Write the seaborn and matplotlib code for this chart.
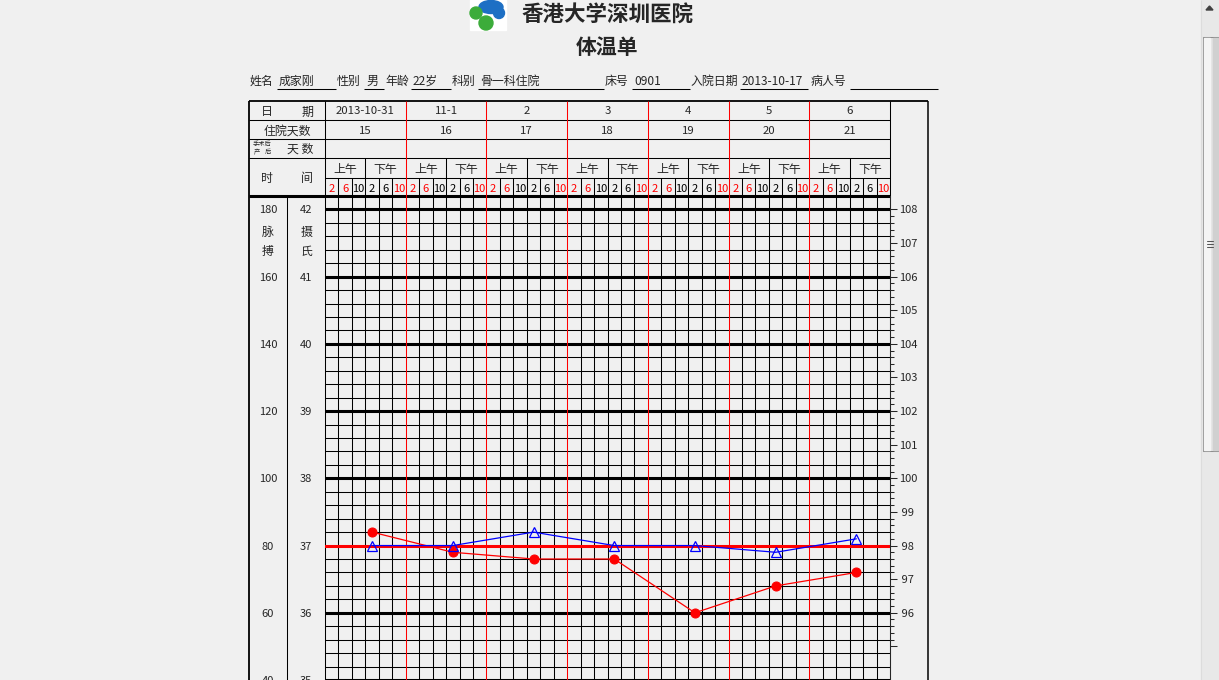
import numpy as np
import matplotlib
matplotlib.use('Agg')
import matplotlib.pyplot as plt
import matplotlib.transforms as mtransforms
from matplotlib.patches import Rectangle, Circle, Ellipse, Polygon
import seaborn as sns

sns.set_style('white')
plt.rcParams['font.family'] = ['Noto Sans CJK SC', 'DejaVu Sans']

# ---- data ----
dates = ['2013-10-31', '11-1', '2', '3', '4', '5', '6']
hosp_days = [15, 16, 17, 18, 19, 20, 21]
slot_hours = [2, 6, 10, 2, 6, 10]
slot_red = [True, True, False, False, False, True]
reading_day = [0, 1, 2, 3, 4, 5, 6]
reading_slot = [3, 3, 3, 3, 3, 3, 3]  # 下午 2 点
temps = [37.2, 36.9, 36.8, 36.8, 36.0, 36.4, 36.6]
pulses = [80, 80, 84, 80, 80, 78, 82]
temp_ticks = [42, 41, 40, 39, 38, 37, 36, 35]
pulse_ticks = [180, 160, 140, 120, 100, 80, 60, 40]
f_ticks = list(range(95, 109))

info_labels = ['姓名', '性别', '年龄', '科别', '床号', '入院日期', '病人号']
info_values = ['成家刚', '男', '22岁', '骨一科住院', '0901', '2013-10-17', '']

# ---- layout (pixels) ----
W, H = 1219, 680
GX0, GX1, GY0, GY1 = 325, 890, 196, 680
NCOL = 42
colw = (GX1 - GX0) / NCOL
dayw = colw * 6
info_label_x = [250, 337, 385, 452, 605, 691, 811]
info_field = [(277, 336), (364, 384), (411, 451), (478, 604), (632, 690), (740, 808), (850, 938)]

fig = plt.figure(figsize=(W / 100, H / 100), dpi=100, facecolor='#f0f0f0')
bg = fig.add_axes([0, 0, 1, 1])
bg.set_xlim(0, W)
bg.set_ylim(H, 0)
bg.axis('off')


def hline(y, x0, x1, lw=0.75, c='black'):
    bg.plot([x0, x1], [y, y], color=c, lw=lw, solid_capstyle='butt')


def vline(x, y0, y1, lw=0.75, c='black'):
    bg.plot([x, x], [y0, y1], color=c, lw=lw, solid_capstyle='butt')


# logo
bg.add_patch(Rectangle((470, 0), 36, 30, color='white', zorder=1))
bg.add_patch(Ellipse((491, 7), 24, 13, color='#1d6fc4', zorder=2))
bg.add_patch(Circle((499, 13), 5.5, color='#1d6fc4', zorder=2))
bg.add_patch(Circle((476, 13), 6, color='#3cac3a', zorder=2))
bg.add_patch(Circle((486, 23), 7, color='#3cac3a', zorder=2))

# titles
bg.text(607, 15, '香港大学深圳医院', fontsize=15.5, fontweight='bold', ha='center', va='center')
bg.text(607, 48, '体温单', fontsize=15, fontweight='bold', ha='center', va='center')

# info row
for lab, val, lx, (f0, f1) in zip(info_labels, info_values, info_label_x, info_field):
    bg.text(lx, 80, lab, fontsize=8.6, ha='left', va='center_baseline')
    bg.text(f0 + 2, 80, val, fontsize=8.6, ha='left', va='center_baseline')
    hline(88.5, f0, f1, lw=0.75)

# table frame / header
hline(101, 249, 928, lw=1.3)
for y in [120, 139, 158]:
    hline(y, 249, 890)
hline(178, 325, 890)
hline(196, 249, 890, lw=2.2)
vline(249, 101, 680, lw=1.3)
vline(928, 101, 680, lw=1.1)
vline(890, 101, 680)
vline(325, 101, 680)
vline(287, 196, 680)
for i in range(1, NCOL):
    x = GX0 + i * colw
    if i % 6 == 0:
        vline(x, 101, 196, c='red')
    elif i % 3 == 0:
        vline(x, 158, 196)
    else:
        vline(x, 178, 196)

fs = 8.6
bg.text(267, 110.5, '日', fontsize=fs, ha='center', va='center_baseline')
bg.text(307, 110.5, '期', fontsize=fs, ha='center', va='center_baseline')
bg.text(287, 129.5, '住院天数', fontsize=fs, ha='center', va='center_baseline')
bg.text(262, 143, '手术后', fontsize=4.5, ha='center', va='center_baseline')
bg.text(257, 151, '产', fontsize=4.5, ha='center', va='center_baseline')
bg.text(268, 151, '后', fontsize=4.5, ha='center', va='center_baseline')
bg.text(300, 148, '天 数', fontsize=fs, ha='center', va='center_baseline')
bg.text(267, 177, '时', fontsize=fs, ha='center', va='center_baseline')
bg.text(307, 177, '间', fontsize=fs, ha='center', va='center_baseline')

for d in range(7):
    cx = GX0 + dayw * (d + 0.5)
    bg.text(cx, 110.5, dates[d], fontsize=8.2, ha='center', va='center_baseline')
    bg.text(cx, 129.5, str(hosp_days[d]), fontsize=8.2, ha='center', va='center_baseline')
    bg.text(GX0 + dayw * d + dayw * 0.25, 168, '上午', fontsize=fs, ha='center', va='center_baseline')
    bg.text(GX0 + dayw * d + dayw * 0.75, 168, '下午', fontsize=fs, ha='center', va='center_baseline')
    for j, (h, red) in enumerate(zip(slot_hours, slot_red)):
        bg.text(GX0 + (d * 6 + j + 0.5) * colw, 187.5, str(h), fontsize=8,
                color='red' if red else 'black', ha='center', va='center_baseline')

# ---- chart grid ----
ax = fig.add_axes([GX0 / W, 1 - GY1 / H, (GX1 - GX0) / W, (GY1 - GY0) / H])
ax.axis('off')
for k in range(36):
    v = round(35 + 0.2 * k, 1)
    if v == 37:
        ax.axhline(v, color='red', lw=2.2, zorder=3)
    elif v == int(v):
        ax.axhline(v, color='black', lw=2.2, zorder=1)
    else:
        ax.axhline(v, color='black', lw=0.75, zorder=1)
for i in range(1, NCOL):
    if i % 6 == 0:
        ax.axvline(i, color='red', lw=0.75, zorder=3)
    else:
        ax.axvline(i, color='black', lw=0.75, zorder=1)

x_read = [d * 6 + s + 0.5 for d, s in zip(reading_day, reading_slot)]
sns.lineplot(x=x_read, y=temps, ax=ax, color='red', lw=0.9, marker='o', markersize=6.5,
             markeredgecolor='red', markerfacecolor='red', zorder=5)
ax.set_xlim(0, NCOL)
ax.set_ylim(35, 42.2)

axp = ax.twinx()
sns.lineplot(x=x_read, y=pulses, ax=axp, color='blue', lw=0.9, marker='^', markersize=7,
             markerfacecolor='none', markeredgecolor='blue', markeredgewidth=0.9, zorder=5)
axp.set_xlim(0, NCOL)
axp.set_ylim(40, 184)
axp.axis('off')

# fahrenheit scale on the right
axf = ax.twinx()
axf.set_ylim(94, 108.4)
for s in ['top', 'bottom', 'left']:
    axf.spines[s].set_visible(False)
axf.spines['right'].set_linewidth(0.75)
axf.set_yticks(f_ticks)
axf.set_yticklabels(['' if f == 95 else (' %d' % f if f < 100 else str(f)) for f in f_ticks], fontsize=8)
axf.set_yticks(np.arange(95, 108.01, 0.2), minor=True)
axf.tick_params(axis='y', which='major', length=4.8, width=0.75, pad=1.5, direction='out')
axf.tick_params(axis='y', which='minor', length=2.9, width=0.75, direction='out')
axf.set_xticks([])

# left scales
tr_t = mtransforms.blended_transform_factory(bg.transData, ax.transData)
tr_p = mtransforms.blended_transform_factory(bg.transData, axp.transData)
for t in temp_ticks:
    bg.text(306, t, str(t), transform=tr_t, fontsize=8, ha='center', va='center_baseline')
for p in pulse_ticks:
    bg.text(268, p, str(p), transform=tr_p, fontsize=8, ha='center', va='center_baseline')
bg.text(268, 231, '脉', fontsize=fs, ha='center', va='center_baseline')
bg.text(268, 250, '搏', fontsize=fs, ha='center', va='center_baseline')
bg.text(306, 231, '摄', fontsize=fs, ha='center', va='center_baseline')
bg.text(306, 250, '氏', fontsize=fs, ha='center', va='center_baseline')

# scrollbar
bg.add_patch(Rectangle((1201, 0), 18, 680, color='#e8e8e8', zorder=1))
vline(1201, 0, 680, lw=0.75, c='#dcdcdc')
bg.add_patch(Polygon([[1206, 10], [1213, 10], [1209.5, 6]], color='#404040', zorder=2))
bg.add_patch(Rectangle((1203, 37), 15, 414, facecolor='#e2e2e2', edgecolor='#8e8e8e', lw=0.75, zorder=2))
bg.add_patch(Rectangle((1204, 38), 6, 412, color='#f4f4f4', zorder=3))
bg.add_patch(Rectangle((1213, 38), 4.5, 412, color='#d0d0d0', zorder=3))
for gy in [241, 244, 247]:
    bg.plot([1207, 1213], [gy, gy], color='#555555', lw=0.75, zorder=4)

fig.savefig('out.png', dpi=100, facecolor=fig.get_facecolor())
